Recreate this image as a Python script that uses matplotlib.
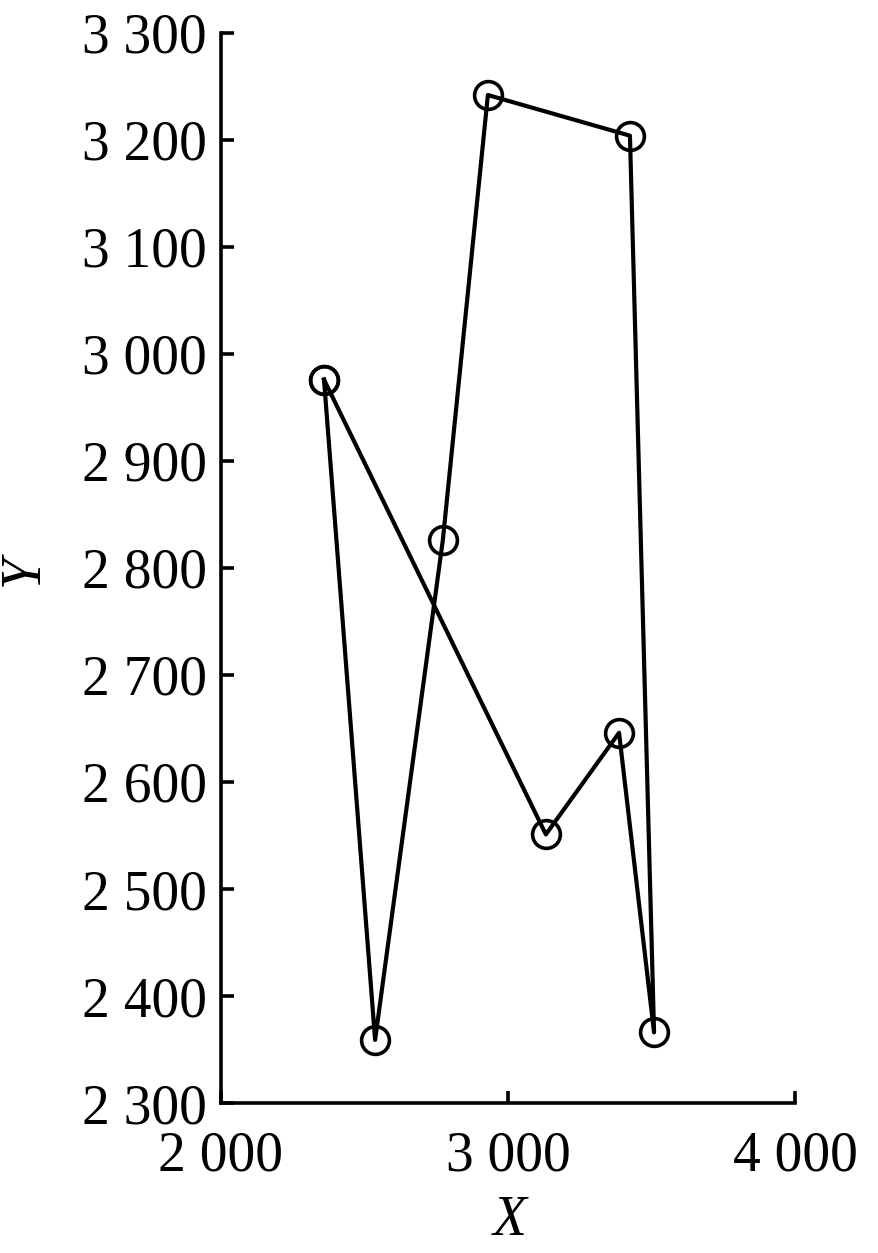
import matplotlib
matplotlib.use("Agg")
import matplotlib.pyplot as plt
from matplotlib.ticker import FuncFormatter, FixedLocator

x_vals = [2359, 2537, 2773, 2930, 3425, 3509, 3387, 3132]
y_vals = [2976, 2359, 2826, 3242, 3204, 2366, 2646, 2551]
x_ticks = [2000, 3000, 4000]
y_ticks = [2300, 2400, 2500, 2600, 2700, 2800, 2900, 3000, 3100, 3200, 3300]

plt.rcParams['font.family'] = ['Liberation Serif', 'DejaVu Serif']

fig = plt.figure(figsize=(8.79, 12.53), dpi=100)
ax = fig.add_axes([0.2514, 0.1197, 0.653, 0.854])

xs = x_vals + [x_vals[0]]
ys = y_vals + [y_vals[0]]
ax.plot(xs, ys, color='black', lw=3.0, marker='o', markersize=20,
        markerfacecolor='none', markeredgecolor='black', markeredgewidth=2.6,
        clip_on=False)

ax.set_xlim(2000, 4000)
ax.set_ylim(2300, 3300)
ax.xaxis.set_major_locator(FixedLocator(x_ticks))
ax.yaxis.set_major_locator(FixedLocator(y_ticks))
fmt = FuncFormatter(lambda v, p: f"{int(v):,}".replace(",", " "))
ax.xaxis.set_major_formatter(fmt)
ax.yaxis.set_major_formatter(fmt)

for s in ['top', 'right']:
    ax.spines[s].set_visible(False)
for s in ['left', 'bottom']:
    ax.spines[s].set_linewidth(2.6)

ax.tick_params(direction='in', length=9, width=2.6, labelsize=40)
ax.tick_params(axis='x', pad=20)
ax.tick_params(axis='y', pad=10)

ax.set_xlabel('X', fontsize=40, fontstyle='italic')
ax.set_ylabel('Y', fontsize=40, fontstyle='italic')
ax.xaxis.set_label_coords(0.503, -0.086)
ax.yaxis.set_label_coords(-0.298, 0.498)

fig.savefig('out.png', dpi=100)
